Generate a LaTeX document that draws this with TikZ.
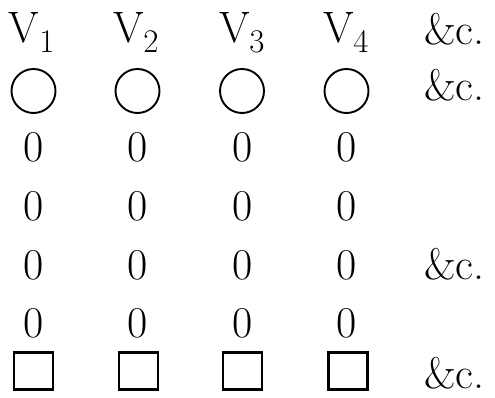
\documentclass[tikz,border=0pt]{standalone}
\begin{document}
\begin{tikzpicture}[x=1pt,y=-1pt,
  txt/.style={inner sep=0pt,outer sep=0pt,anchor=base,font=\fontsize{44}{50}\selectfont},
  etc/.style={inner sep=0pt,outer sep=0pt,anchor=base west,font=\fontsize{44}{50}\selectfont},
  ring/.style={draw,circle,minimum size=44pt,inner sep=0pt,line width=1.9pt},
  sq/.style={draw,rectangle,minimum width=39pt,minimum height=37pt,inner sep=0pt,line width=2.4pt}]
\useasboundingbox (0,0) rectangle (495,398);
\newcommand{\vlab}[1]{V\raisebox{-10pt}{\fontsize{33}{40}\selectfont #1}}
% header
\node[txt,anchor=base west] (v1) at (9,43) {\vlab{1}};
\node[txt,anchor=base west] (v2) at (113,43) {\vlab{2}};
\node[txt,anchor=base west] (v3) at (219,43) {\vlab{3}};
\node[txt,anchor=base west] (v4) at (323,43) {\vlab{4}};
\node[etc] (e1) at (424,45) {\&c.};
% circles
\node[ring] (c1) at (33.5,91) {};
\node[ring] (c2) at (137.5,91) {};
\node[ring] (c3) at (242,91) {};
\node[ring] (c4) at (346.5,91) {};
\node[etc] (e2) at (424,101) {\&c.};
% zeros
\node[txt] (z11) at (34,162) {0};
\node[txt] (z12) at (138,162) {0};
\node[txt] (z13) at (242.5,162) {0};
\node[txt] (z14) at (347,162) {0};
\node[txt] (z21) at (34,220.5) {0};
\node[txt] (z22) at (138,220.5) {0};
\node[txt] (z23) at (242.5,220.5) {0};
\node[txt] (z24) at (347,220.5) {0};
\node[txt] (z31) at (34,279) {0};
\node[txt] (z32) at (138,279) {0};
\node[txt] (z33) at (242.5,279) {0};
\node[txt] (z34) at (347,279) {0};
\node[etc] (e3) at (424,279) {\&c.};
\node[txt] (z41) at (34,337) {0};
\node[txt] (z42) at (138,337) {0};
\node[txt] (z43) at (242.5,337) {0};
\node[txt] (z44) at (347,337) {0};
% squares
\node[sq] (s1) at (33.5,371) {};
\node[sq] (s2) at (138.5,371) {};
\node[sq] (s3) at (242.5,371) {};
\node[sq] (s4) at (348,371) {};
\node[etc] (e4) at (424,388) {\&c.};
\end{tikzpicture}
\end{document}
